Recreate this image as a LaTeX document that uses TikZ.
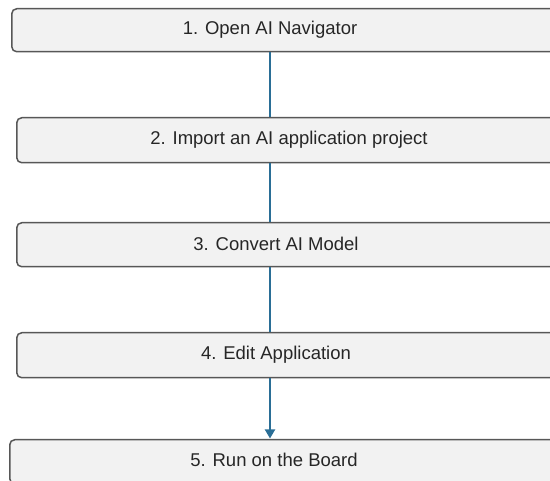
\documentclass[tikz,border=0pt]{standalone}
\usepackage{fontspec}
\setmainfont{Liberation Sans}
\usetikzlibrary{arrows.meta}
\definecolor{boxfill}{HTML}{F2F2F2}
\definecolor{boxline}{HTML}{575757}
\definecolor{conn}{HTML}{2A6E96}
\tikzset{
  stepbox/.style={draw=boxline, line width=1.5pt, fill=boxfill, rounded corners=5pt, inner sep=0pt},
  steplabel/.style={font=\fontsize{18.5}{22}\selectfont, text=black!85, inner sep=0pt, anchor=center},
  link/.style={draw=conn, line width=1.8pt},
}
\begin{document}
\begin{tikzpicture}[x=1pt,y=-1pt]
\useasboundingbox (0,0) rectangle (550,481);
\node[stepbox, minimum width=560pt, minimum height=43pt, anchor=north west] (b1) at (11,8) {};
\node[stepbox, minimum width=560pt, minimum height=45pt, anchor=north west] (b2) at (16,117) {};
\node[stepbox, minimum width=560pt, minimum height=44pt, anchor=north west] (b3) at (16,222) {};
\node[stepbox, minimum width=560pt, minimum height=45pt, anchor=north west] (b4) at (16,332) {};
\node[stepbox, minimum width=560pt, minimum height=44pt, anchor=north west] (b5) at (9,439) {};
\node[steplabel] (t1) at (270,30) {1. Open AI Navigator};
\node[steplabel] (t2) at (289,140) {2. Import an AI application project};
\node[steplabel] (t3) at (276,244) {3. Convert AI Model};
\node[steplabel] (t4) at (276,355) {4. Edit Application};
\node[steplabel] (t5) at (274,460) {5. Run on the Board};
\coordinate (cx) at (270,0);
\draw[link] (b1.south -| cx) -- (b2.north -| cx);
\draw[link] (b2.south -| cx) -- (b3.north -| cx);
\draw[link] (b3.south -| cx) -- (b4.north -| cx);
\draw[link, -{Triangle[width=10pt,length=9pt]}, shorten >=0.5pt] (b4.south -| cx) -- (b5.north -| cx);
\end{tikzpicture}
\end{document}
